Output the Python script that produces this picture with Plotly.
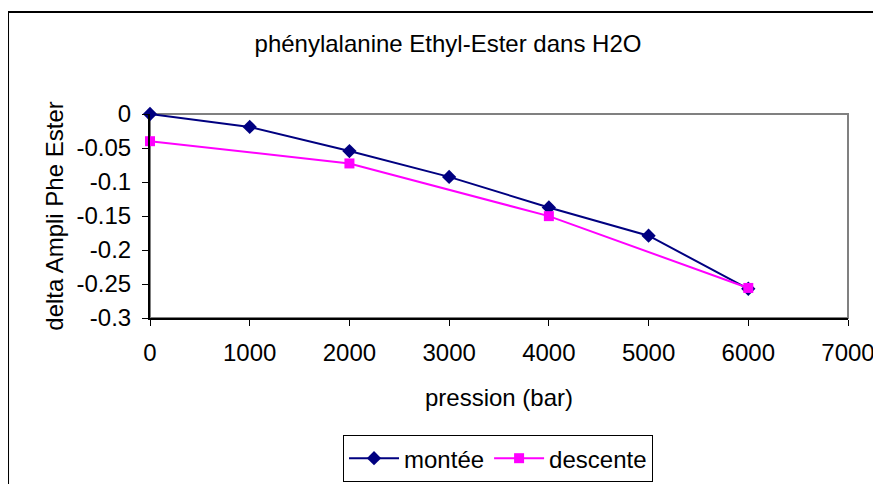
import plotly.graph_objects as go

# data
pression = [0, 1000, 2000, 3000, 4000, 5000, 6000]
montee = [0, -0.019, -0.0545, -0.0925, -0.1375, -0.179, -0.257]

pression_desc = [0, 2000, 4000, 6000]
descente = [-0.040, -0.0727, -0.1502, -0.2558]

y_ticks = [0, -0.05, -0.1, -0.15, -0.2, -0.25, -0.3]
y_labels = ['0', '-0.05', '-0.1', '-0.15', '-0.2', '-0.25', '-0.3']
x_ticks = [0, 1000, 2000, 3000, 4000, 5000, 6000, 7000]

font = 'Liberation Sans, Arial, sans-serif'
fs = 24

fig = go.Figure()
fig.add_trace(go.Scatter(x=pression, y=montee, name='montée', mode='lines+markers',
                         line=dict(color='#000080', width=2), cliponaxis=False,
                         marker=dict(symbol='diamond', size=11, color='#000080')))
fig.add_trace(go.Scatter(x=pression_desc, y=descente, name='descente', mode='lines+markers',
                         line=dict(color='#FF00FF', width=2), cliponaxis=False,
                         marker=dict(symbol='square', size=10, color='#FF00FF')))

# plot area border (grey) and outer chart frame (black)
fig.add_shape(type='rect', xref='paper', yref='paper', x0=0, y0=0, x1=1, y1=1,
              line=dict(color='#808080', width=2), layer='below')
fig.add_shape(type='rect', xref='paper', yref='paper', x0=-0.2034, y0=-0.9, x1=1.06, y1=1.5,
              line=dict(color='black', width=2), layer='below')

# page body has an 8px margin, so the figure is made 8px smaller
fig.update_layout(
    width=873, height=476,
    margin=dict(l=142, r=33, t=106, b=166, autoexpand=False),
    paper_bgcolor='white', plot_bgcolor='white',
    font=dict(family=font, size=fs, color='black'),
    title=dict(text='phénylalanine Ethyl-Ester dans H2O', x=0.504, xanchor='center',
               y=0.926, yanchor='middle', font=dict(size=fs)),
    showlegend=True,
    legend=dict(orientation='h', x=0.4986, xanchor='center', y=-0.574, yanchor='top',
                bordercolor='black', borderwidth=1, font=dict(size=fs),
                itemwidth=50),
)
fig.update_xaxes(range=[0, 7000], tickvals=x_ticks, showgrid=False, zeroline=False,
                 showline=True, linecolor='black', linewidth=2,
                 ticks='outside', ticklen=6, tickcolor='black', ticklabelstandoff=6,
                 tickfont=dict(size=fs), automargin=False,
                 title=dict(text='pression (bar)', standoff=24, font=dict(size=fs)))
fig.update_yaxes(range=[-0.3, 0], tickvals=y_ticks, ticktext=y_labels, showgrid=False,
                 zeroline=False, showline=True, linecolor='black', linewidth=2,
                 ticks='outside', ticklen=6, tickcolor='black', ticklabelstandoff=6,
                 tickfont=dict(size=fs), automargin=False,
                 title=dict(text='delta Ampli Phe Ester', standoff=6, font=dict(size=fs)))

fig.write_html('out.html')
